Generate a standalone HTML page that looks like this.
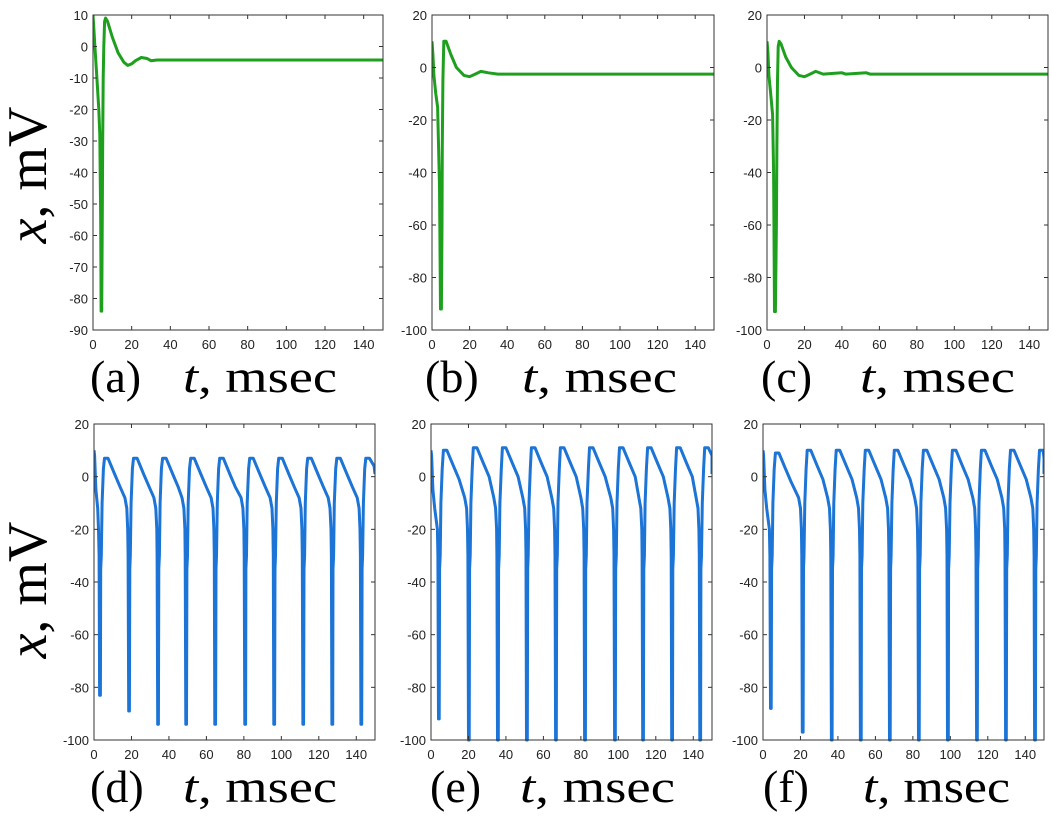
<!DOCTYPE html>
<html><head><meta charset="utf-8"><style>
html,body{margin:0;padding:0;background:#fff;}
svg{display:block;}
.tick{font-family:"Liberation Sans",sans-serif;font-size:13px;fill:#222;}
.lab{font-family:"Liberation Serif",serif;font-size:46px;fill:#000;}
</style></head><body>
<svg id="fig" width="1052" height="820" viewBox="0 0 1052 820" xmlns="http://www.w3.org/2000/svg">
<text class="lab" transform="translate(46,175) rotate(-90)" text-anchor="middle" style="font-size:56px"><tspan font-style="italic">x</tspan>, mV</text>
<text class="lab" transform="translate(46,590) rotate(-90)" text-anchor="middle" style="font-size:56px"><tspan font-style="italic">x</tspan>, mV</text>
</svg>
<script>
// ---- data ----
const xTicks = [0,20,40,60,80,100,120,140];
const yTicksA = [10,0,-10,-20,-30,-40,-50,-60,-70,-80,-90];
const yTicks20 = [20,0,-20,-40,-60,-80,-100];
const panelLetters = ["a","b","c","d","e","f"];
// top row traces (t in msec, x in mV)
const tA = [0,0.5,1,2,3,3.5,4,4.2,4.5,4.8,5,5.3,5.6,6,6.5,7.5,10,13,16,18,20,22,25,28,30,33,35,150];
const vA = [10,5,0,-10,-20,-28,-55,-84,-84,-54,-30,-10,0,8,9,8,3,-2,-5,-6,-5.5,-4.5,-3.5,-3.8,-4.5,-4.3,-4.3,-4.3];
const tB = [0,0.5,1,2,3,4,4.5,5,5.3,5.5,5.8,6.3,7.5,10,13,17,20,23,26,30,35,150];
const vB = [10,5,-3,-10,-15,-45,-92,-92,-60,-30,-5,10,10,5,0,-3,-3.5,-2.5,-1.5,-2,-2.5,-2.5];
const tC = [0,0.5,1,2,3,3.5,4,4.5,5,5.3,5.6,6,6.5,7.5,10,13,17,20,23,26,30,40,42,53,55,150];
const vC = [10,6,-3,-10,-18,-40,-93,-93,-60,-30,-5,8,10,9,4,0,-3,-3.5,-2.5,-1.5,-2.5,-2,-2.5,-2,-2.5,-2.5];
// bottom row: spike times, trough values, peak values
const spikeD = [3,18.5,34,49,64.5,80.5,96,111.5,127,142.5];
const troughD = [-83,-89,-94,-94,-94,-94,-94,-94,-94,-94];
const peakD = [7,7,7,7,7,7,7,7,7,7];
const spikeE = [4,20,35.5,51,66.5,82,98,113,128.5,143.5];
const troughE = [-92,-100,-100,-100,-100,-100,-100,-100,-100,-100];
const peakE = [10,11,11,11,11,11,11,11,11,11];
const spikeF = [4,21,36.5,52,67.5,83,98.5,114,129.5,145];
const troughF = [-88,-97,-100,-100,-100,-100,-100,-100,-100,-100];
const peakF = [9,10,10,10,10,10,10,10,10,10];

const NS="http://www.w3.org/2000/svg";
const svg=document.getElementById('fig');
function mk(tag,attrs,parent){const e=document.createElementNS(NS,tag);for(const k in attrs)e.setAttribute(k,attrs[k]);(parent||svg).appendChild(e);return e;}

function periodic(spikes,troughs,peaks){
  const t=[0,0.3],v=[10,8];
  for(let i=0;i<spikes.length;i++){
    const s=spikes[i];
    if(i===0){t.push(1,2,s-0.6,s-0.3);v.push(-5,-12,-20,-30);}
    else{const p=spikes[i-1];t.push(p+8,p+11,s-2,s-1,s-0.5,s-0.3);v.push(peaks[i-1]-6,peaks[i-1]-11,-8,-12,-20,-30);}
    t.push(s,s+0.4,s+0.6,s+0.9,s+1.3,s+2,s+2.6,s+4.5);
    v.push(troughs[i],troughs[i],-35,-30,-10,3,peaks[i],peaks[i]);
  }
  const last=spikes[spikes.length-1];
  t.push(Math.min(last+7,150),150);v.push(peaks[peaks.length-1]-3,1);
  const n=t.filter(x=>x<=150).length;
  return {t:t.slice(0,n),v:v.slice(0,n)};
}
const pd=periodic(spikeD,troughD,peakD), pe=periodic(spikeE,troughE,peakE), pf=periodic(spikeF,troughF,peakF);

const panels=[
 {box:[93,383,15,330],ymin:-90,ymax:10,yt:yTicksA,t:tA,v:vA,col:"#1ea01e",lab:[90,183,154]},
 {box:[432,714,15,330],ymin:-100,ymax:20,yt:yTicks20,t:tB,v:vB,col:"#1ea01e",lab:[425,522,155]},
 {box:[767,1048,15,330],ymin:-100,ymax:20,yt:yTicks20,t:tC,v:vC,col:"#1ea01e",lab:[761,860,155]},
 {box:[94,375,424,740],ymin:-100,ymax:20,yt:yTicks20,t:pd.t,v:pd.v,col:"#1b74d6",lab:[90,183,154]},
 {box:[431,712,424,740],ymin:-100,ymax:20,yt:yTicks20,t:pe.t,v:pe.v,col:"#1b74d6",lab:[430,520,155]},
 {box:[763,1044,424,740],ymin:-100,ymax:20,yt:yTicks20,t:pf.t,v:pf.v,col:"#1b74d6",lab:[763,863,147]}
];
panels.forEach((p,i)=>{
  const [x0,x1,y0,y1]=p.box;
  const g=mk('g',{});
  
  
  const X=t=>x0+(t/150)*(x1-x0);
  const Y=v=>y1-(v-p.ymin)/(p.ymax-p.ymin)*(y1-y0);
  const cp='cp'+i;
  const cl=mk('clipPath',{id:cp},g);mk('rect',{x:x0,y:y0-2,width:x1-x0,height:y1-y0+4},cl);
  let d='';p.t.forEach((t,k)=>{d+=(k?'L':'M')+X(t).toFixed(1)+','+Y(p.v[k]).toFixed(1);});
  const line=mk('path',{d:d,fill:'none',stroke:p.col,'stroke-width':3,'stroke-linejoin':'round','clip-path':'url(#'+cp+')'},g);
  
  
  const fr=mk('rect',{x:x0,y:y0,width:x1-x0,height:y1-y0,fill:'none',stroke:'#333','stroke-width':1},g);
  
  
  xTicks.forEach(t=>{
    const x=X(t);
    mk('line',{x1:x,x2:x,y1:y1,y2:y1-4,stroke:'#333'},g);
    mk('line',{x1:x,x2:x,y1:y0,y2:y0+4,stroke:'#333'},g);
    const tx=mk('text',{x:x,y:y1+19,'text-anchor':'middle',class:'tick'},g);tx.textContent=t;
    
    
  });
  p.yt.forEach(v=>{
    const y=Y(v);
    mk('line',{x1:x0,x2:x0+4,y1:y,y2:y,stroke:'#333'},g);
    mk('line',{x1:x1,x2:x1-4,y1:y,y2:y,stroke:'#333'},g);
    const tx=mk('text',{x:x0-5,y:y+5,'text-anchor':'end',class:'tick'},g);tx.textContent=v;
    
    
  });
  const ly=y1+62;
  const l1=mk('text',{x:p.lab[0],y:ly,class:'lab'},g);l1.textContent='('+panelLetters[i]+')';
  
  
  const l2=mk('text',{x:p.lab[1],y:ly,class:'lab',textLength:p.lab[2],lengthAdjust:'spacingAndGlyphs'},g);
  
  
  const ts=mk('tspan',{'font-style':'italic'},l2);ts.textContent='t';
  const ts2=mk('tspan',{},l2);ts2.textContent=', msec';
});
</script>
</body></html>
